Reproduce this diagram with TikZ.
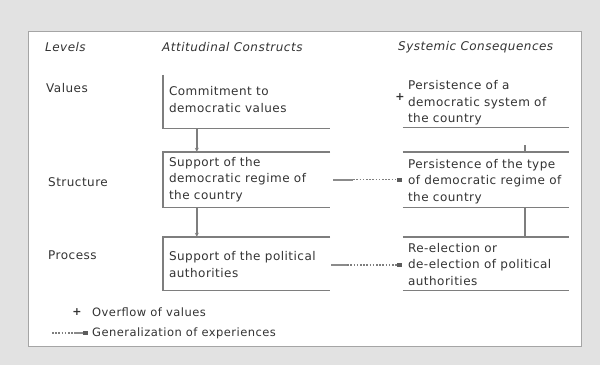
\documentclass[tikz,border=0pt]{standalone}
\usepackage{fontspec}
\setmainfont{DejaVu Sans}[LetterSpace=4]
\usetikzlibrary{arrows.meta}
\definecolor{bgc}{HTML}{E2E2E2}
\definecolor{lnc}{HTML}{7E7E7E}
\definecolor{txc}{HTML}{333333}
\tikzset{
  frame/.style 2 args={minimum width=#1,minimum height=#2,inner sep=0pt,draw=none},
  txt/.style={anchor=west,inner sep=0pt,align=left,font=\fontsize{12}{16.5}\selectfont,text=txc},
  boxline/.style={draw=lnc,line width=1.4pt},
  hdr/.style={font=\fontsize{12}{14}\selectfont\itshape,text=txc,anchor=west,inner sep=0pt},
  lvl/.style={font=\fontsize{12}{14}\selectfont,text=txc,anchor=west,inner sep=0pt},
  leg/.style={font=\fontsize{11.5}{14}\selectfont,text=txc,anchor=west,inner sep=0pt},
  arr/.style={draw=lnc,line width=1.4pt,-{Stealth[length=4pt,width=4pt]}},
  solidpart/.style={draw=lnc!90,line width=2pt},
  dotpart/.style={draw=lnc,line width=1.8pt,dash pattern=on 1.6pt off 1.6pt},
  sqtip/.style={fill=txc!80},
  plusmark/.style={text=txc,font=\fontsize{11}{11}\bfseries\selectfont,inner sep=0pt},
}
\begin{document}
\begin{tikzpicture}[x=1pt,y=-1pt]
\useasboundingbox (0,0) rectangle (600,365);
\fill[bgc] (0,0) rectangle (600,365);
\filldraw[fill=white,draw=lnc!70,line width=0.6pt] (28,31) rectangle (581,346);
% headers
\node[hdr] (hl) at (45,47) {Levels};
\node[hdr] (ha) at (162,47) {Attitudinal Constructs};
\node[hdr] (hs) at (398,47) {Systemic Consequences};
% levels
\node[lvl] (lv) at (46,88) {Values};
\node[lvl] (ls) at (48,182) {Structure};
\node[lvl] (lp) at (48,255) {Process};
% frames
\node[frame={167pt}{53pt}] (L1) at (246.5,101.5) {};
\node[frame={167pt}{55pt}] (L2) at (246.5,179.5) {};
\node[frame={167pt}{53pt}] (L3) at (246.5,263.5) {};
\node[frame={166pt}{55pt}] (R1) at (486,100) {};
\node[frame={166pt}{55pt}] (R2) at (486,179.5) {};
\node[frame={166pt}{53pt}] (R3) at (486,263.5) {};
% texts
\node[txt] (L1t) at ([xshift=6pt,yshift=2pt]L1.west) {Commitment to\\democratic values};
\node[txt] (L2t) at ([xshift=6pt]L2.west) {Support of the\\democratic regime of\\the country};
\node[txt] (L3t) at ([xshift=6pt,yshift=-1pt]L3.west) {Support of the political\\authorities};
\node[txt] (R1t) at ([xshift=5pt,yshift=-3pt]R1.west) {Persistence of a\\democratic system of\\the country};
\node[txt] (R2t) at ([xshift=5pt,yshift=-2pt]R2.west) {Persistence of the type\\of democratic regime of\\the country};
\node[txt] (R3t) at ([xshift=5pt,yshift=-1pt]R3.west) {Re-election or\\de-election of political\\authorities};
% box borders
\draw[boxline] (L1.north west) -- (L1.south west) -- (L1.south east);
\draw[boxline] (L2.north east) -- (L2.north west) -- (L2.south west) -- (L2.south east);
\draw[boxline] (L3.north east) -- (L3.north west) -- (L3.south west) -- (L3.south east);
\draw[boxline] (R1.south west) -- (R1.south east);
\draw[boxline] (R2.north west) -- (R2.north east);
\draw[boxline] (R2.south west) -- (R2.south east);
\draw[boxline] (R3.north west) -- (R3.north east);
\draw[boxline] (R3.south west) -- (R3.south east);
% vertical connectors
\draw[arr] (L1.south west) ++(34,0) coordinate (a1) -- (a1 |- L2.north);
\draw[arr] (L2.south west) ++(34,0) coordinate (a2) -- (a2 |- L3.north);
\draw[draw=lnc,line width=1.4pt] (R2.north west) ++(122,0) coordinate (t1) -- ++(0,-7);
\draw[draw=lnc,line width=2.4pt] (R2.south west) ++(122,0) coordinate (t2) -- (t2 |- R3.north);
% generalisation connectors
\coordinate (g1a) at ([xshift=3pt]L2.east);
\coordinate (g1b) at ([xshift=-4pt]R2.west);
\draw[solidpart] (g1a) -- ++(20,0) coordinate (g1m);
\draw[dotpart] (g1m) -- (g1b);
\fill[sqtip] ([xshift=-2pt,yshift=-2pt]g1b) rectangle ([xshift=3pt,yshift=2pt]g1b);
\coordinate (g2a) at ([xshift=1pt,yshift=-1.5pt]L3.east);
\coordinate (g2b) at ([xshift=-4pt,yshift=-1.5pt]R3.west);
\draw[solidpart] (g2a) -- ++(16,0) coordinate (g2m);
\draw[dotpart] (g2m) -- (g2b);
\fill[sqtip] ([xshift=-2pt,yshift=-2pt]g2b) rectangle ([xshift=3pt,yshift=2pt]g2b);
% overflow marker
\node[plusmark] (ov) at (400,97) {+};
% legend
\node[plusmark] (lg1) at (77,312) {+};
\node[leg] (lt1) at (92,312) {Overflow of values};
\coordinate (lg2a) at (52,333);
\coordinate (lg2m) at (74,333);
\coordinate (lg2b) at (83,333);
\draw[dotpart] (lg2a) -- (lg2m);
\draw[solidpart] (lg2m) -- (lg2b);
\fill[sqtip] ([yshift=-2pt]lg2b) rectangle ([xshift=5pt,yshift=2pt]lg2b);
\node[leg] (lt2) at (92,333) {Generalization of experiences};
\end{tikzpicture}
\end{document}
